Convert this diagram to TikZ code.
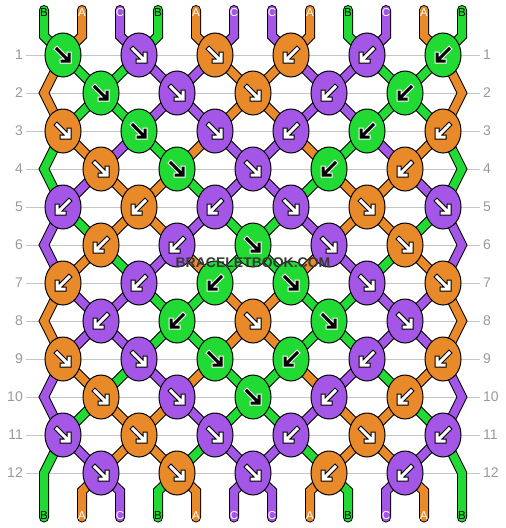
\documentclass[tikz,border=0pt]{standalone}
\usepackage{fontspec}
\setmainfont{Liberation Sans}
\usetikzlibrary{shapes.geometric}

\definecolor{strA}{RGB}{232,137,42}
\definecolor{strB}{RGB}{34,218,52}
\definecolor{strC}{RGB}{164,87,230}
\definecolor{wmgrey}{RGB}{55,55,55}

\pgfdeclarelayer{background}
\pgfsetlayers{background,main}

\newcommand\arrin{white}
\newcommand\arrout{black}
% #1 = 1 for a forward knot, -1 for a backward knot
\newcommand\knotarrow[1]{%
  \begin{scope}[shift={(path picture bounding box.center)},
      line join=miter,line cap=rect]
    \draw[draw=\arrout,line width=5pt] ({-6*#1},-6) -- ({4*#1},4)
      ({6*#1},-1) -- ({6*#1},6) -- ({-1*#1},6);
    \draw[draw=\arrin,line width=3pt] ({-6*#1},-6) -- ({4*#1},4)
      ({6*#1},-1) -- ({6*#1},6) -- ({-1*#1},6);
  \end{scope}}

\tikzset{
  arrin/.store in=\arrin,
  arrout/.store in=\arrout,
  knot/.style={ellipse,draw=black,line width=1pt,minimum width=36pt,
    minimum height=44pt,inner sep=0pt},
  kA/.style={knot,fill=strA,arrin=white,arrout=black},
  kB/.style={knot,fill=strB,arrin=black,arrout=white},
  kC/.style={knot,fill=strC,arrin=white,arrout=black},
  fw/.style={path picture={\knotarrow{1}}},
  bw/.style={path picture={\knotarrow{-1}}},
  strand/.style={draw=black,line width=1pt,double distance=8pt,
    line cap=round,line join=miter},
  sA/.style={strand,double=strA},
  sB/.style={strand,double=strB},
  sC/.style={strand,double=strC},
  rowlbl/.style={text=gray!80,font=\fontsize{14}{16}\selectfont,inner sep=3pt},
  gridline/.style={draw=gray!45,line width=1pt},
  tag/.style={font=\fontsize{11.5}{12}\selectfont,inner sep=0pt},
  wmark/.style={text=wmgrey,font=\bfseries\fontsize{14}{16}\selectfont}
}

\begin{document}
\begin{tikzpicture}[x=1pt,y=-1pt]
  \useasboundingbox (0,0) rectangle (506,528);

  % string ends and edge turns
  \foreach \i in {1,...,12} {
    \coordinate (t\i) at ({44+38*(\i-1)},10);
    \coordinate (u\i) at ({44+38*(\i-1)},36);
    \coordinate (d\i) at ({44+38*(\i-1)},491);
    \coordinate (b\i) at ({44+38*(\i-1)},517.5);
  }
  \foreach \r in {2,4,...,12} {
    \coordinate (eL\r) at (44,{55+38*(\r-1)});
    \coordinate (eR\r) at (462,{55+38*(\r-1)});
  }

  % row numbers
  \foreach \r in {1,...,12} {
    \node[rowlbl,anchor=east] (l\r) at (26,{55+38*(\r-1)}) {\r};
    \node[rowlbl,anchor=west] (r\r) at (480,{55+38*(\r-1)}) {\r};
  }

  % knots
  \node[kB,fw] (k1-1) at (63,55) {};
  \node[kC,fw] (k1-2) at (139,55) {};
  \node[kA,fw] (k1-3) at (215,55) {};
  \node[kA,bw] (k1-4) at (291,55) {};
  \node[kC,bw] (k1-5) at (367,55) {};
  \node[kB,bw] (k1-6) at (443,55) {};

  \node[kB,fw] (k2-1) at (101,93) {};
  \node[kC,fw] (k2-2) at (177,93) {};
  \node[kA,fw] (k2-3) at (253,93) {};
  \node[kC,bw] (k2-4) at (329,93) {};
  \node[kB,bw] (k2-5) at (405,93) {};

  \node[kA,fw] (k3-1) at (63,131) {};
  \node[kB,fw] (k3-2) at (139,131) {};
  \node[kC,fw] (k3-3) at (215,131) {};
  \node[kC,bw] (k3-4) at (291,131) {};
  \node[kB,bw] (k3-5) at (367,131) {};
  \node[kA,bw] (k3-6) at (443,131) {};

  \node[kA,fw] (k4-1) at (101,169) {};
  \node[kB,fw] (k4-2) at (177,169) {};
  \node[kC,fw] (k4-3) at (253,169) {};
  \node[kB,bw] (k4-4) at (329,169) {};
  \node[kA,bw] (k4-5) at (405,169) {};

  \node[kC,bw] (k5-1) at (63,207) {};
  \node[kA,bw] (k5-2) at (139,207) {};
  \node[kC,bw] (k5-3) at (215,207) {};
  \node[kC,fw] (k5-4) at (291,207) {};
  \node[kA,fw] (k5-5) at (367,207) {};
  \node[kC,fw] (k5-6) at (443,207) {};

  \node[kA,bw] (k6-1) at (101,245) {};
  \node[kC,bw] (k6-2) at (177,245) {};
  \node[kB,fw] (k6-3) at (253,245) {};
  \node[kC,fw] (k6-4) at (329,245) {};
  \node[kA,fw] (k6-5) at (405,245) {};

  \node[kA,bw] (k7-1) at (63,283) {};
  \node[kC,bw] (k7-2) at (139,283) {};
  \node[kB,bw] (k7-3) at (215,283) {};
  \node[kB,fw] (k7-4) at (291,283) {};
  \node[kC,fw] (k7-5) at (367,283) {};
  \node[kA,fw] (k7-6) at (443,283) {};

  \node[kC,bw] (k8-1) at (101,321) {};
  \node[kB,bw] (k8-2) at (177,321) {};
  \node[kA,fw] (k8-3) at (253,321) {};
  \node[kB,fw] (k8-4) at (329,321) {};
  \node[kC,fw] (k8-5) at (405,321) {};

  \node[kA,fw] (k9-1) at (63,359) {};
  \node[kC,fw] (k9-2) at (139,359) {};
  \node[kB,fw] (k9-3) at (215,359) {};
  \node[kB,bw] (k9-4) at (291,359) {};
  \node[kC,bw] (k9-5) at (367,359) {};
  \node[kA,bw] (k9-6) at (443,359) {};

  \node[kA,fw] (k10-1) at (101,397) {};
  \node[kC,fw] (k10-2) at (177,397) {};
  \node[kB,fw] (k10-3) at (253,397) {};
  \node[kC,bw] (k10-4) at (329,397) {};
  \node[kA,bw] (k10-5) at (405,397) {};

  \node[kC,fw] (k11-1) at (63,435) {};
  \node[kA,fw] (k11-2) at (139,435) {};
  \node[kC,fw] (k11-3) at (215,435) {};
  \node[kC,bw] (k11-4) at (291,435) {};
  \node[kA,fw] (k11-5) at (367,435) {};
  \node[kC,bw] (k11-6) at (443,435) {};

  \node[kC,fw] (k12-1) at (101,473) {};
  \node[kA,fw] (k12-2) at (177,473) {};
  \node[kC,fw] (k12-3) at (253,473) {};
  \node[kA,bw] (k12-4) at (329,473) {};
  \node[kC,bw] (k12-5) at (405,473) {};

  % string names, top and bottom
  \foreach \s/\tc [count=\i] in {B/black,A/white,C/white,B/black,A/white,C/white,
      C/white,A/white,B/black,C/white,A/white,B/black} {
    \node[tag,text=\tc] (nt\i) at ({44+38*(\i-1)},12.5) {\s};
    \node[tag,text=\tc] (nb\i) at ({44+38*(\i-1)},516) {\s};
  }

  \node[wmark] (wm) at (253,263) {BRACELETBOOK.COM};

  \begin{pgfonlayer}{background}
    \foreach \r in {1,...,12}
      \draw[gridline] (l\r) -- (r\r);

    \draw[sB] (t1) -- (u1) -- (k1-1.center) -- (k2-1.center) -- (k3-2.center) -- (k4-2.center) -- (k5-3.center) -- (k6-3.center) -- (k7-4.center) -- (k8-4.center) -- (k9-5.center) -- (k10-5.center) -- (k11-6.center) -- (eR12) -- (b12);
    \draw[sA] (t2) -- (u2) -- (k1-1.center) -- (eL2) -- (k3-1.center) -- (k4-1.center) -- (k5-2.center) -- (k6-2.center) -- (k7-3.center) -- (k8-3.center) -- (k9-4.center) -- (k10-4.center) -- (k11-5.center) -- (k12-5.center) -- (d11) -- (b11);
    \draw[sC] (t3) -- (u3) -- (k1-2.center) -- (k2-2.center) -- (k3-3.center) -- (k4-3.center) -- (k5-4.center) -- (k6-4.center) -- (k7-5.center) -- (k8-5.center) -- (k9-6.center) -- (eR10) -- (k11-6.center) -- (k12-5.center) -- (d10) -- (b10);
    \draw[sB] (t4) -- (u4) -- (k1-2.center) -- (k2-1.center) -- (k3-1.center) -- (eL4) -- (k5-1.center) -- (k6-1.center) -- (k7-2.center) -- (k8-2.center) -- (k9-3.center) -- (k10-3.center) -- (k11-4.center) -- (k12-4.center) -- (d9) -- (b9);
    \draw[sA] (t5) -- (u5) -- (k1-3.center) -- (k2-3.center) -- (k3-4.center) -- (k4-4.center) -- (k5-5.center) -- (k6-5.center) -- (k7-6.center) -- (eR8) -- (k9-6.center) -- (k10-5.center) -- (k11-5.center) -- (k12-4.center) -- (d8) -- (b8);
    \draw[sC] (t6) -- (u6) -- (k1-3.center) -- (k2-2.center) -- (k3-2.center) -- (k4-1.center) -- (k5-1.center) -- (eL6) -- (k7-1.center) -- (k8-1.center) -- (k9-2.center) -- (k10-2.center) -- (k11-3.center) -- (k12-3.center) -- (d7) -- (b7);
    \draw[sC] (t7) -- (u7) -- (k1-4.center) -- (k2-4.center) -- (k3-5.center) -- (k4-5.center) -- (k5-6.center) -- (eR6) -- (k7-6.center) -- (k8-5.center) -- (k9-5.center) -- (k10-4.center) -- (k11-4.center) -- (k12-3.center) -- (d6) -- (b6);
    \draw[sA] (t8) -- (u8) -- (k1-4.center) -- (k2-3.center) -- (k3-3.center) -- (k4-2.center) -- (k5-2.center) -- (k6-1.center) -- (k7-1.center) -- (eL8) -- (k9-1.center) -- (k10-1.center) -- (k11-2.center) -- (k12-2.center) -- (d5) -- (b5);
    \draw[sB] (t9) -- (u9) -- (k1-5.center) -- (k2-5.center) -- (k3-6.center) -- (eR4) -- (k5-6.center) -- (k6-5.center) -- (k7-5.center) -- (k8-4.center) -- (k9-4.center) -- (k10-3.center) -- (k11-3.center) -- (k12-2.center) -- (d4) -- (b4);
    \draw[sC] (t10) -- (u10) -- (k1-5.center) -- (k2-4.center) -- (k3-4.center) -- (k4-3.center) -- (k5-3.center) -- (k6-2.center) -- (k7-2.center) -- (k8-1.center) -- (k9-1.center) -- (eL10) -- (k11-1.center) -- (k12-1.center) -- (d3) -- (b3);
    \draw[sA] (t11) -- (u11) -- (k1-6.center) -- (eR2) -- (k3-6.center) -- (k4-5.center) -- (k5-5.center) -- (k6-4.center) -- (k7-4.center) -- (k8-3.center) -- (k9-3.center) -- (k10-2.center) -- (k11-2.center) -- (k12-1.center) -- (d2) -- (b2);
    \draw[sB] (t12) -- (u12) -- (k1-6.center) -- (k2-5.center) -- (k3-5.center) -- (k4-4.center) -- (k5-4.center) -- (k6-3.center) -- (k7-3.center) -- (k8-2.center) -- (k9-2.center) -- (k10-1.center) -- (k11-1.center) -- (eL12) -- (b1);
  \end{pgfonlayer}
\end{tikzpicture}
\end{document}
